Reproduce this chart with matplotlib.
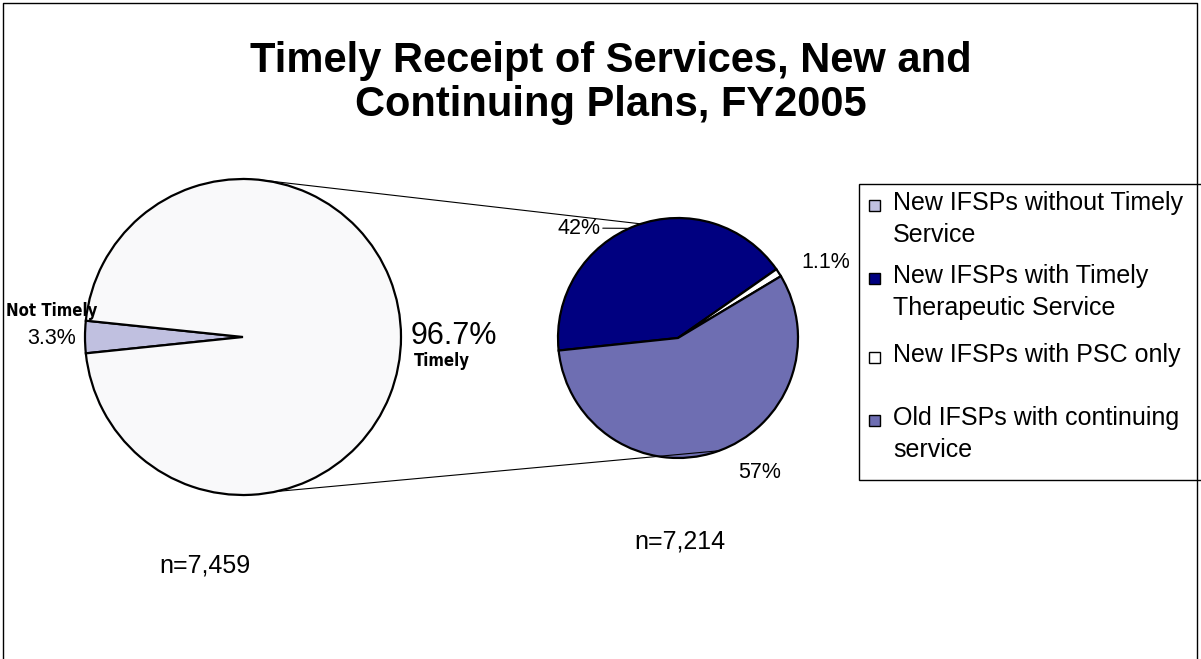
import numpy as np
import matplotlib
matplotlib.use("Agg")
from matplotlib import pyplot as plt
from matplotlib.patches import Rectangle
from matplotlib.lines import Line2D
from matplotlib import font_manager

plt.rcParams['font.family'] = ['Liberation Sans', 'DejaVu Sans']

W, H = 1201, 659

# overall split (n=7,459)
left_labels = ["Not Timely", "Timely"]
left_values = [3.3, 96.7]
left_colors = ["#C0C0E0", "#F9F9FA"]
left_n = "n=7,459"

# breakdown of the timely part (n=7,214)
right_labels = ["New IFSPs with Timely\nTherapeutic Service",
                "New IFSPs with PSC only\n",
                "Old IFSPs with continuing\nservice"]
right_values = [42, 1.1, 57]
right_colors = ["#000080", "#FFFFFF", "#6E6EB2"]
right_n = "n=7,214"

legend_labels = ["New IFSPs without Timely\nService"] + right_labels
legend_colors = [left_colors[0]] + right_colors

title = "Timely Receipt of Services, New and\nContinuing Plans, FY2005"

# a condensed bold face for the category names, if one is installed
cond = None
for f in font_manager.fontManager.ttflist:
    if f.name == "DejaVu Sans" and f.weight == 700 and f.stretch == "condensed" \
            and f.style == "normal":
        cond = f.fname
        break
name_font = dict(fontproperties=font_manager.FontProperties(fname=cond, size=12)) \
    if cond else dict(fontsize=12.5, fontweight="bold")

# pie geometry in pixel space (y measured from top)
lc, lr = (243, 337), 158
rc, rr = (678, 338), 120


def P(x, y):
    return x, H - y


def on_circle(c, r, ang):
    a = np.radians(ang)
    return c[0] + r * np.cos(a), (H - c[1]) + r * np.sin(a)


fig = plt.figure(figsize=(W / 100, H / 100), dpi=100)
ax = fig.add_axes([0, 0, 1, 1])

wp = dict(edgecolor="black", linewidth=1.6)
start_left = 180 - left_values[0] * 3.6 / 2
ax.pie(left_values, colors=left_colors, center=P(*lc), radius=lr,
       startangle=start_left, counterclock=True, wedgeprops=wp)

ax.pie(right_values, colors=right_colors, center=P(*rc), radius=rr,
       startangle=186, counterclock=False, wedgeprops=wp)

ax.set_xlim(0, W)
ax.set_ylim(0, H)
ax.set_aspect("equal")
ax.axis("off")

# connector lines between the two pies
for a1, a2 in [(84, 108), (-78, -70)]:
    x1, y1 = on_circle(lc, lr, a1)
    x2, y2 = on_circle(rc, rr, a2)
    ax.plot([x1, x2], [y1, y2], color="black", lw=0.8)

# left pie labels
ax.text(*P(97, 311), left_labels[0], ha="right", va="center", **name_font)
ax.text(*P(76, 338), f"{left_values[0]:.1f}%", ha="right", va="center",
        fontsize=15.5)
ax.text(*P(411, 336), f"{left_values[1]:.1f}%", ha="left", va="center",
        fontsize=22)
ax.text(*P(414, 361), left_labels[1], ha="left", va="center", **name_font)

# right pie labels
lx, ly = on_circle(rc, rr, 114)
ax.annotate(f"{right_values[0]:.0f}%", xy=(lx, ly), xytext=P(600, 228),
            ha="right", va="center", fontsize=15.5,
            arrowprops=dict(arrowstyle="-", color="black", lw=0.8,
                            shrinkA=0, shrinkB=0))
ax.text(*P(801, 263), f"{right_values[1]:.1f}%", ha="left", va="center",
        fontsize=15.5)
ax.text(*P(760, 473), f"{right_values[2]:.0f}%", ha="center", va="center",
        fontsize=15.5)

ax.text(*P(205, 565), left_n, ha="center", va="center", fontsize=18)
ax.text(*P(680, 542), right_n, ha="center", va="center", fontsize=18)

ax.text(*P(611, 83), title, ha="center", va="center", fontsize=30,
        fontweight="bold", linespacing=1.15)

# legend box, entries top-aligned with their swatches
ax.add_patch(Rectangle(P(859, 480), 360, 296, facecolor="white",
                       edgecolor="black", lw=1.0, clip_on=False))
entry_y = [205, 278, 357, 420]
for lab, col, ey in zip(legend_labels, legend_colors, entry_y):
    ax.add_patch(Rectangle(P(869, ey + 6), 11, 11, facecolor=col,
                           edgecolor="black", lw=1.0))
    ax.text(*P(893, ey - 14), lab, ha="left", va="top", fontsize=18,
            linespacing=1.42)

# chart area border
fig.add_artist(Line2D([3 / W, 3 / W, 1197 / W, 1197 / W],
                      [0, 1 - 3 / H, 1 - 3 / H, 0],
                      transform=fig.transFigure, color="black", lw=1.0))

fig.savefig("out.png", dpi=100)
